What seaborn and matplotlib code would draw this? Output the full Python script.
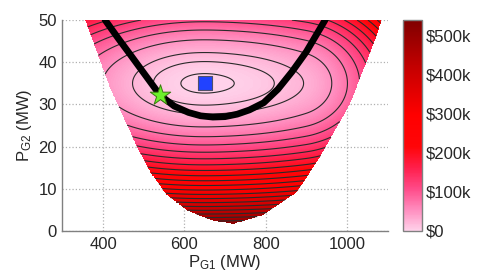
import numpy as np
import matplotlib
matplotlib.use('Agg')
import matplotlib.pyplot as plt
from matplotlib.colors import LinearSegmentedColormap
import seaborn as sns

# Optimum points
opt_pg1, opt_pg2 = 650, 35          # unconstrained optimum (blue square)
star_pg1, star_pg2 = 539, 32.2      # constrained optimum (green star)

# Feasible region boundary (lower edge of the shaded area)
bnd_pg1 = [356, 417, 483, 516, 557, 609, 665, 720, 794, 876, 934, 1008, 1069, 1085]
bnd_pg2 = [50, 34, 20, 14, 8.5, 4.8, 2.6, 1.7, 3.8, 9.2, 17.6, 30.3, 45.3, 50]

# Constraint curve (thick black line)
curve_pg1 = [405, 437, 470, 505, 540, 575, 610, 640, 670, 700, 730, 760, 795, 830, 865, 900, 946]
curve_pg2 = [50, 45.7, 41.4, 36.8, 32.2, 29.6, 28.1, 27.3, 27.0, 27.1, 27.7, 28.7, 30.4, 33.6, 37.8, 42.5, 50]

# Cost model estimated from the contour spacing
cost_per_mw2 = 469.0                 # $ per MW^2 on P_G2
curv_mid, curv_skew = 0.0013, 0.0004 # relative curvature on P_G1
curv_high, knee = 0.0048, 250        # extra curvature far right
contour_levels = np.array([0.1, 0.5] + list(range(1, 22))) * 25000
cbar_ticks = [0, 100000, 200000, 300000, 400000, 500000]
cbar_labels = ['\\$0', '\\$100k', '\\$200k', '\\$300k', '\\$400k', '\\$500k']
vmax = 540000

pg1 = np.linspace(300, 1100, 801)
pg2 = np.linspace(0, 50, 501)
X, Y = np.meshgrid(pg1, pg2)
dx = X - opt_pg1
dy = Y - opt_pg2
fx = dx**2 * (curv_mid - curv_skew * np.tanh(dx / 80)) + curv_high * np.clip(dx - knee, 0, None)**2
cost = cost_per_mw2 * (fx + dy**2)
lower = np.interp(pg1, bnd_pg1, bnd_pg2, left=np.inf, right=np.inf)
cost = np.ma.masked_where(Y < lower[None, :], cost)

cmap = LinearSegmentedColormap.from_list('pinkred', [
    (0.0, '#FFD2EA'), (0.1, '#FF8CBE'), (0.2, '#FF4A88'), (0.3, '#FF1E4A'),
    (0.4, '#FF0508'), (0.55, '#FF0000'), (0.75, '#CC0000'), (1.0, '#800000')])

sns.set_theme(style='white')
plt.rcParams['font.family'] = ['Liberation Sans', 'DejaVu Sans']
plt.rcParams['mathtext.fontset'] = 'custom'
plt.rcParams['mathtext.rm'] = 'Liberation Sans'
plt.rcParams['mathtext.it'] = 'Liberation Sans:italic'

fig = plt.figure(figsize=(4.84, 2.75), dpi=100)
ax = fig.add_axes([0.129, 0.16, 0.672, 0.767])
cax = fig.add_axes([0.832, 0.16, 0.039, 0.767])

ax.grid(True, linestyle=':', color='#B0B0B0', linewidth=0.9)
ax.set_axisbelow(True)
mesh = ax.pcolormesh(X, Y, cost, cmap=cmap, vmin=0, vmax=vmax, shading='nearest', rasterized=True)
ax.contour(X, Y, cost, levels=contour_levels, colors='#2A2A2A', linewidths=0.8)

sns.lineplot(x=curve_pg1, y=curve_pg2, sort=False, color='black', linewidth=4.8,
             ax=ax, solid_capstyle='round', solid_joinstyle='round', zorder=5)
sns.scatterplot(x=[opt_pg1], y=[opt_pg2], marker='s', s=95, color='#2142FF',
                edgecolor='#50506A', linewidth=0.8, ax=ax, zorder=6)
sns.scatterplot(x=[star_pg1], y=[star_pg2], marker='*', s=240, color='#6CF02A',
                edgecolor='#3A7A10', linewidth=0.7, ax=ax, zorder=7)

ax.set_xlim(300, 1100)
ax.set_ylim(0, 50)
ax.set_xticks([400, 600, 800, 1000])
ax.set_yticks([0, 10, 20, 30, 40, 50])
ax.tick_params(labelsize=12, direction='in', length=3, color='#808080', pad=4)
for side in ['top', 'right']:
    ax.spines[side].set_visible(False)
for side in ['left', 'bottom']:
    ax.spines[side].set_color('#808080')
    ax.spines[side].set_linewidth(1.0)
ax.set_xlabel(r'P$_{\mathrm{G1}}$ (MW)', fontsize=12, labelpad=1)
ax.set_ylabel(r'P$_{\mathrm{G2}}$ (MW)', fontsize=12, labelpad=3)

cb = fig.colorbar(mesh, cax=cax, ticks=cbar_ticks)
cb.ax.set_yticklabels(cbar_labels)
cb.ax.tick_params(labelsize=12, direction='in', length=3, color='#808080', pad=3)
cb.outline.set_edgecolor('#808080')
cb.outline.set_linewidth(1.0)

fig.savefig('out.png', dpi=100)
